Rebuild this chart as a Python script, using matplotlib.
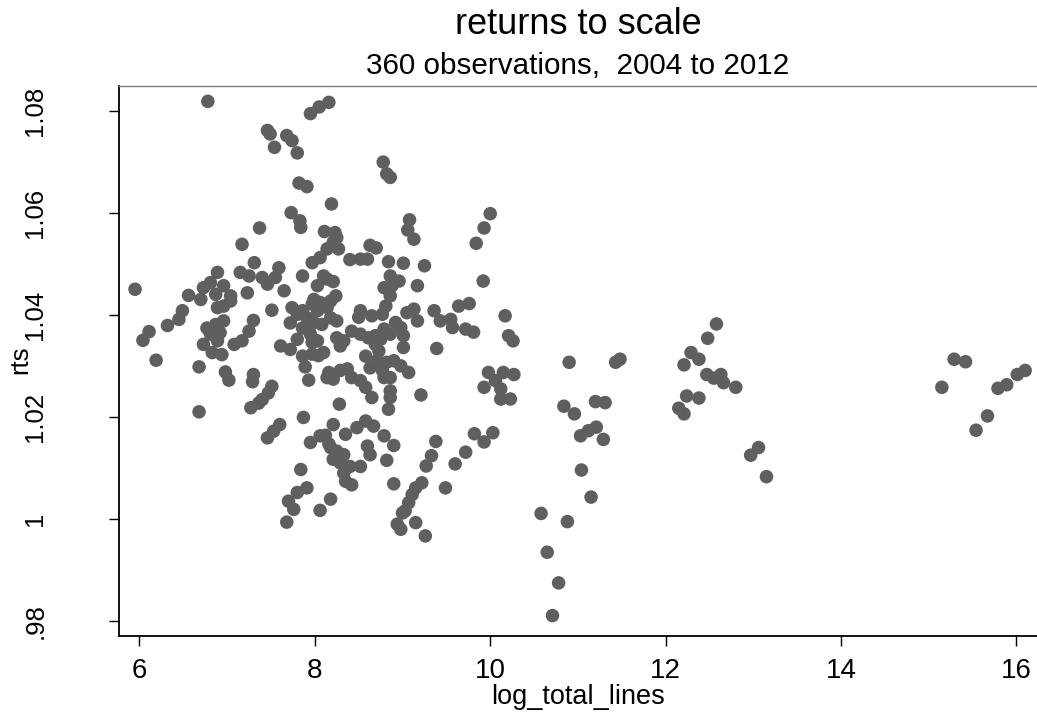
import matplotlib
matplotlib.use("Agg")
import matplotlib.pyplot as plt

plt.rcParams['font.family'] = ['Liberation Sans', 'DejaVu Sans']

# log_total_lines / rts pairs
log_total_lines = [
    6.78, 7.95, 8.05, 8.16, 7.46, 7.49, 7.68, 7.74, 7.54, 7.80, 7.82, 7.91, 8.19,
    7.73, 7.83, 7.84, 7.37, 8.11, 7.17, 8.14,
    7.31, 6.89, 7.15, 7.25, 7.40, 7.59, 7.55, 7.86, 7.97, 8.06, 5.95, 6.56, 6.73,
    6.81, 6.96, 7.04, 7.23, 7.46, 7.65, 8.03, 8.14, 6.70, 7.99,
    8.78, 8.82, 8.86, 10.00, 9.93, 9.84, 9.08, 9.06, 9.13, 8.23, 8.25, 8.21, 8.27,
    8.63, 8.70, 8.40, 8.52, 8.60, 8.84, 9.01, 9.25, 9.92, 8.10, 8.21, 8.86, 8.96,
    8.79, 8.88, 9.17,
    6.49, 6.45, 6.87, 7.04, 6.96, 6.89, 7.51, 7.74, 7.86, 7.97, 8.06, 8.14, 7.91,
    7.80, 7.72, 7.86, 7.99, 8.08, 8.18, 6.32, 6.11, 6.04, 6.19, 6.68, 6.68,
    6.77, 6.87, 6.96, 6.81, 6.92, 6.89, 6.73, 6.83, 6.94, 7.08, 7.17, 7.25, 7.30,
    6.98, 7.02, 7.30, 7.29, 7.51, 7.47, 7.40, 7.36, 7.27,
    7.61, 7.72, 7.80, 7.86, 7.89, 7.93, 7.97, 8.04, 8.10, 8.14,
    7.87, 7.60, 7.53, 7.46, 7.95, 8.06, 8.16, 7.84, 7.91, 7.80, 7.70, 7.76, 7.68,
    8.06, 8.18,
    8.10, 8.18, 8.24, 8.03, 7.95, 8.25, 7.95, 8.03, 7.97, 8.25, 8.33, 8.29,
    8.52, 8.50, 8.65, 8.77, 8.81, 8.86, 9.05, 9.13, 9.17, 8.92, 8.98, 9.01, 8.86,
    8.79, 8.75, 8.69, 8.61, 8.52, 8.42, 8.69, 8.73, 9.01,
    9.36, 9.64, 9.76, 9.43, 9.55, 9.57, 9.72, 9.81, 10.17, 10.21, 10.26, 9.39,
    8.58, 8.63, 8.71, 8.77, 8.82, 8.90, 8.98, 9.07, 8.86, 8.79,
    8.16, 8.29, 8.37, 8.42, 8.21, 8.52, 8.58, 8.65, 8.86, 8.86, 8.84, 9.21, 8.28,
    9.98, 10.15, 10.27, 9.93, 10.06, 10.12, 10.12, 10.23,
    8.21, 8.12, 8.35, 8.48, 8.58, 8.67, 8.79, 8.60, 8.63, 8.90,
    8.18, 8.25, 8.33, 8.21, 8.29, 8.40, 8.52, 8.33, 8.35, 8.42,
    8.82, 9.38, 9.33, 9.27, 9.60, 9.72, 9.82, 10.03, 9.93, 8.90,
    9.22, 9.15, 9.11, 9.07, 9.03, 9.00, 9.49, 8.94, 8.98, 9.15, 9.26,
    10.90, 11.43, 11.48, 10.84, 10.96, 11.20, 11.31, 11.03, 11.12, 11.21, 11.29,
    11.04, 11.15, 10.58, 10.88, 10.65, 10.78, 10.71,
    12.58, 12.48, 12.29, 12.38, 12.21, 12.47, 12.55, 12.63, 12.66, 12.80,
    12.24, 12.38, 12.15, 12.21, 12.97, 13.06,
    13.15, 15.29, 15.42, 15.15, 15.67, 15.54, 15.79, 15.89, 16.01, 16.10,
]
rts = [
    1.0818, 1.0794, 1.0807, 1.0816, 1.0761, 1.0754, 1.0751, 1.0741, 1.0728, 1.0717,
    1.0658, 1.0651, 1.0617, 1.0600, 1.0584, 1.0571, 1.0570, 1.0563, 1.0538, 1.0529,
    1.0502, 1.0483, 1.0483, 1.0476, 1.0473, 1.0492, 1.0473, 1.0476, 1.0502, 1.0512,
    1.0450, 1.0438, 1.0453, 1.0463, 1.0457, 1.0437, 1.0443, 1.0460, 1.0447, 1.0457,
    1.0470, 1.0430, 1.0430,
    1.0699, 1.0676, 1.0669, 1.0598, 1.0570, 1.0540, 1.0586, 1.0566, 1.0548, 1.0561,
    1.0551, 1.0542, 1.0529, 1.0536, 1.0531, 1.0508, 1.0509, 1.0509, 1.0504, 1.0501,
    1.0496, 1.0466, 1.0476, 1.0465, 1.0476, 1.0466, 1.0453, 1.0457, 1.0457,
    1.0408, 1.0391, 1.0440, 1.0427, 1.0417, 1.0414, 1.0409, 1.0414, 1.0408, 1.0421,
    1.0424, 1.0414, 1.0394, 1.0401, 1.0384, 1.0374, 1.0384, 1.0381, 1.0394,
    1.0379, 1.0367, 1.0350, 1.0311, 1.0298, 1.0210,
    1.0374, 1.0381, 1.0388, 1.0362, 1.0365, 1.0349, 1.0342, 1.0326, 1.0322,
    1.0342, 1.0349, 1.0368, 1.0389,
    1.0288, 1.0272, 1.0283, 1.0269, 1.0260, 1.0247, 1.0234, 1.0227, 1.0218,
    1.0339, 1.0332, 1.0352, 1.0319, 1.0298, 1.0272, 1.0346, 1.0320, 1.0326, 1.0277,
    1.0199, 1.0185, 1.0172, 1.0159, 1.0150, 1.0163, 1.0147, 1.0097, 1.0061, 1.0052,
    1.0035, 1.0019, 0.9994, 1.0017, 1.0039,
    1.0421, 1.0427, 1.0437, 1.0408, 1.0388, 1.0388, 1.0362, 1.0349, 1.0323, 1.0355,
    1.0349, 1.0339,
    1.0408, 1.0395, 1.0398, 1.0401, 1.0417, 1.0437, 1.0404, 1.0411, 1.0388, 1.0385,
    1.0375, 1.0359, 1.0362, 1.0372, 1.0352, 1.0359, 1.0355, 1.0362, 1.0368, 1.0342,
    1.0329, 1.0336,
    1.0408, 1.0417, 1.0422, 1.0388, 1.0391, 1.0375, 1.0372, 1.0366, 1.0398, 1.0359,
    1.0349, 1.0334,
    1.0319, 1.0296, 1.0310, 1.0291, 1.0307, 1.0310, 1.0300, 1.0287, 1.0277, 1.0277,
    1.0287, 1.0291, 1.0294, 1.0277, 1.0274, 1.0271, 1.0258, 1.0238, 1.0251, 1.0238,
    1.0215, 1.0243, 1.0225,
    1.0287, 1.0287, 1.0283, 1.0258, 1.0271, 1.0255, 1.0235, 1.0235,
    1.0185, 1.0164, 1.0166, 1.0179, 1.0192, 1.0182, 1.0163, 1.0143, 1.0126, 1.0144,
    1.0140, 1.0133, 1.0126, 1.0117, 1.0110, 1.0103, 1.0103, 1.0090, 1.0074, 1.0067,
    1.0115, 1.0152, 1.0124, 1.0104, 1.0108, 1.0131, 1.0167, 1.0169, 1.0151, 1.0069,
    1.0071, 1.0061, 1.0048, 1.0032, 1.0016, 1.0012, 1.0061, 0.9990, 0.9980, 0.9993,
    0.9967,
    1.0307, 1.0307, 1.0313, 1.0221, 1.0206, 1.0230, 1.0228, 1.0163, 1.0173, 1.0180,
    1.0156, 1.0096, 1.0043, 1.0011, 0.9995, 0.9935, 0.9875, 0.9811,
    1.0382, 1.0354, 1.0326, 1.0313, 1.0302, 1.0283, 1.0276, 1.0283, 1.0267, 1.0258,
    1.0241, 1.0237, 1.0217, 1.0206, 1.0125, 1.0140,
    1.0083, 1.0313, 1.0308, 1.0258, 1.0202, 1.0174, 1.0256, 1.0263, 1.0283, 1.0291,
]

x_ticks = [6, 8, 10, 12, 14, 16]
y_ticks = [1.08, 1.06, 1.04, 1.02, 1.00, 0.98]
y_tick_labels = ['1.08', '1.06', '1.04', '1.02', '1', '.98']

fig = plt.figure(figsize=(10.37, 7.15), dpi=100)
ax = fig.add_axes([119 / 1037, 1 - 636 / 715, 1 - 119 / 1037, (636 - 86) / 715])

ax.scatter(log_total_lines, rts, s=95, color='#5f5f5f', edgecolors='none', zorder=3)

ax.set_xlim(5.767, 16.235)
ax.set_ylim(0.9771, 1.0848)
ax.set_xticks(x_ticks)
ax.set_xticklabels([str(t) for t in x_ticks], fontsize=20)
ax.set_yticks(y_ticks)
ax.set_yticklabels(y_tick_labels, rotation=90, va='center', fontsize=18.5)
ax.tick_params(axis='both', direction='out', length=7.5, width=1, color='black')
ax.tick_params(axis='x', pad=8)
ax.tick_params(axis='y', pad=44)

for side in ['left', 'bottom']:
    ax.spines[side].set_linewidth(1.3)
    ax.spines[side].set_color('black')
ax.spines['top'].set_color('#808080')
ax.spines['top'].set_linewidth(1)
ax.spines['right'].set_visible(False)

ax.set_xlabel('log_total_lines', fontsize=19.5, labelpad=0)
fig.text(20 / 1037, 1 - 360 / 715, 'rts', rotation=90, fontsize=18.5,
         ha='center', va='center')

fig.text(578 / 1037, 1 - 33.5 / 715, 'returns to scale', fontsize=26,
         ha='center', va='baseline')
fig.text(578 / 1037, 1 - 74 / 715, '360 observations,  2004 to 2012', fontsize=21.3,
         ha='center', va='baseline')

fig.savefig('out.png', dpi=100)
